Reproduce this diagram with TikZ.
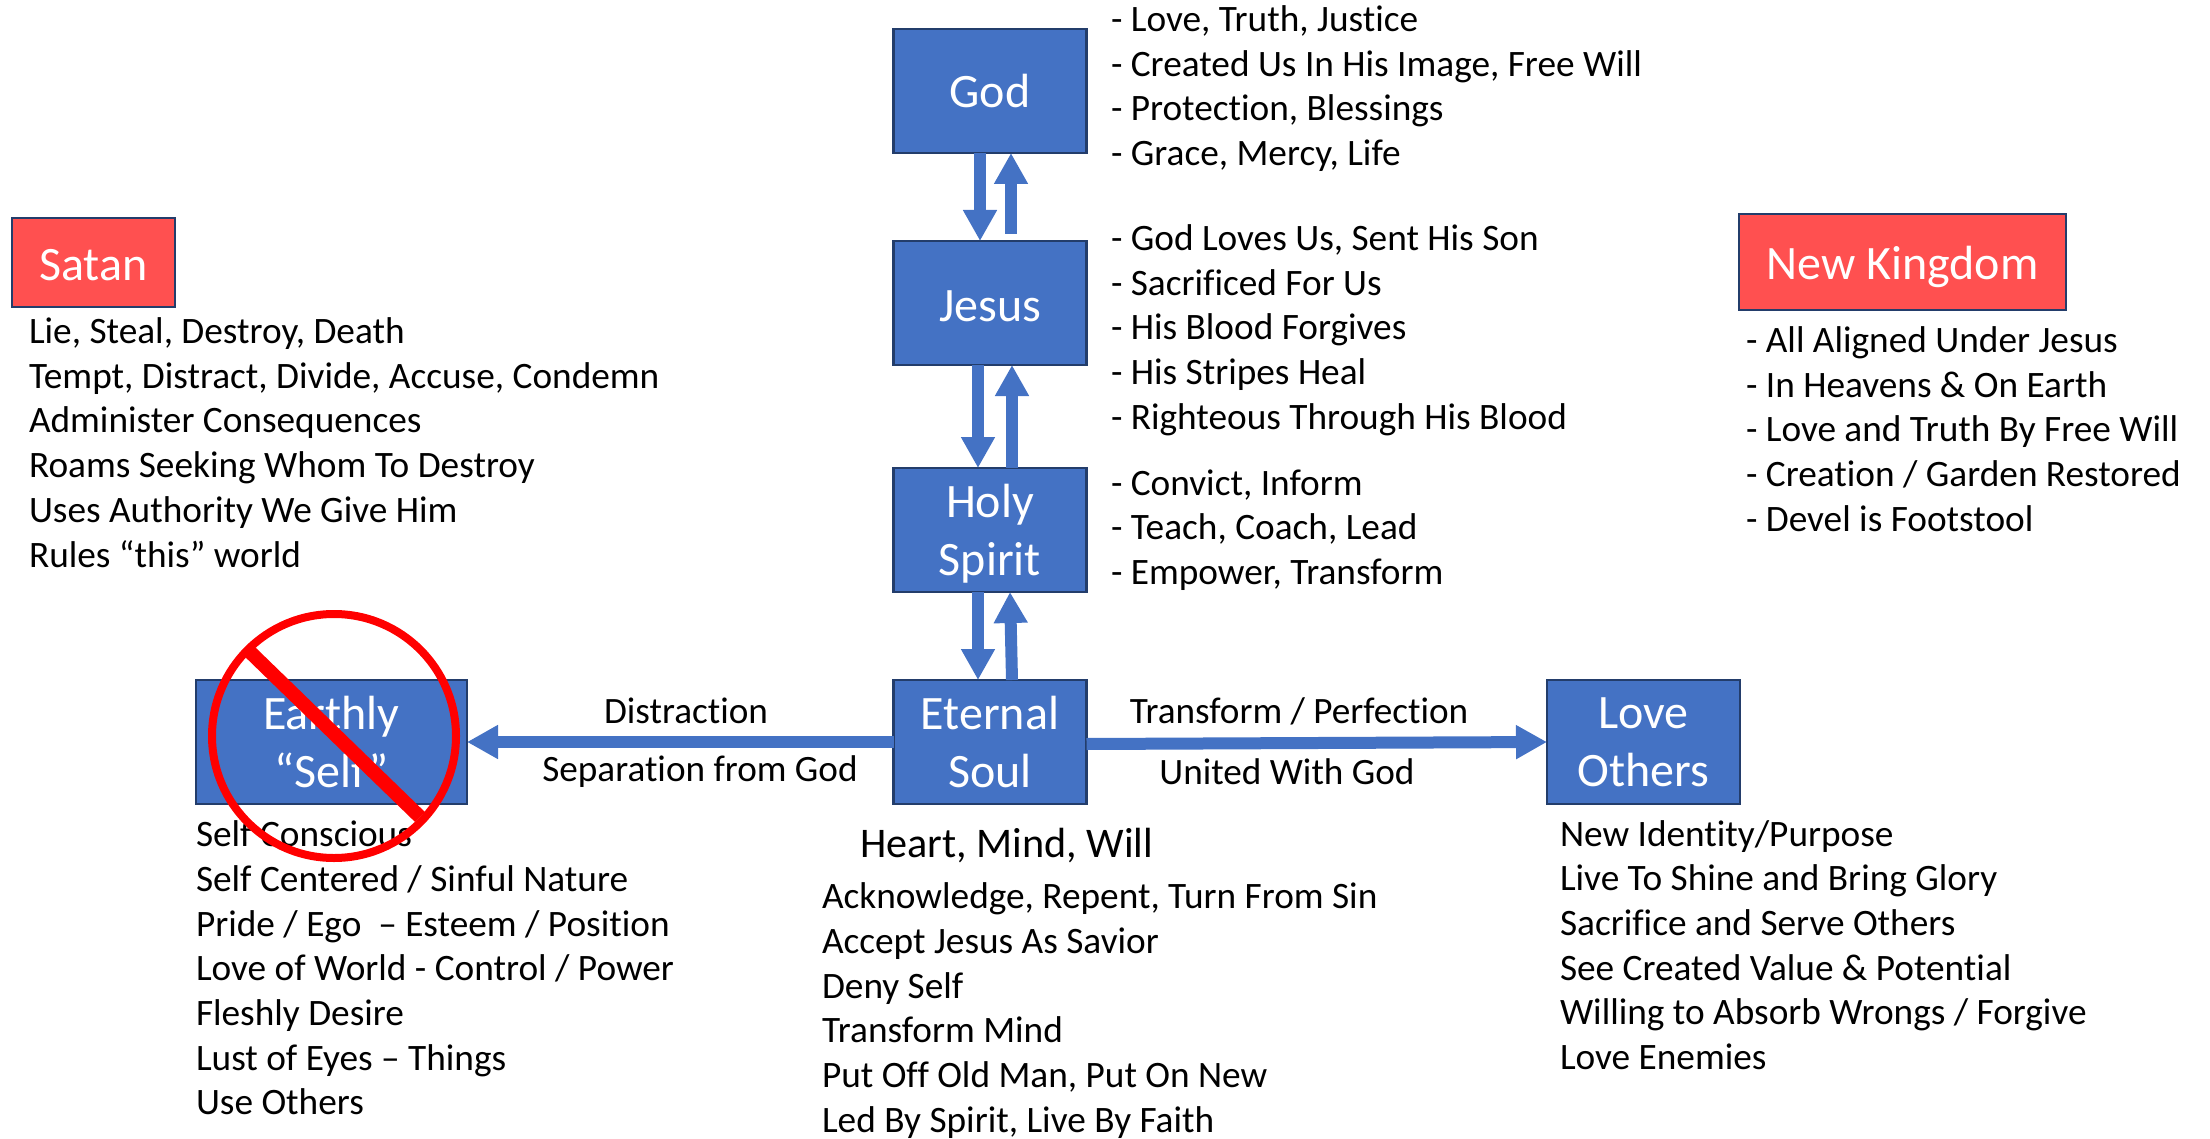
\documentclass[tikz,border=0pt]{standalone}
\usepackage{fontspec}
\setmainfont{Carlito}[Ligatures=NoCommon]
\usetikzlibrary{arrows.meta}
\definecolor{boxblue}{HTML}{4472C4}
\definecolor{boxedge}{HTML}{2F528F}
\definecolor{redbox}{HTML}{FF5050}
\definecolor{banred}{HTML}{FF0000}
\tikzset{
  box/.style={draw=boxedge!75!black,fill=boxblue,line width=1.2pt,text=white,align=center,inner sep=0pt,outer sep=0pt,font=\fontsize{24}{29}\selectfont},
  redb/.style={box,fill=redbox},
  note/.style={anchor=west,align=left,inner sep=0pt,outer sep=0pt,text=black,font=\fontsize{18.65}{22.35}\selectfont},
  lab/.style={anchor=center,align=center,inner sep=0pt,text=black,font=\fontsize{18.6}{22}\selectfont},
  flow/.style={draw=boxblue,line width=6pt,-{Triangle[length=15.5pt,width=16pt]}},
  banline/.style={draw=banred,line width=4pt},
}
\newcommand{\boxnode}[7]{\node[#1,minimum width=#4*0.5pt,minimum height=#5*0.5pt] (#2) at (#6,#7) {#3};}
\begin{document}
\begin{tikzpicture}[x=0.5pt,y=-0.5pt]
\useasboundingbox (0,0) rectangle (2210,1139);
\boxnode{box}{god}{God}{193}{124}{990}{91}
\boxnode{box}{jesus}{\rule{0pt}{19pt}Jesus}{193}{124}{990}{303}
\boxnode{box}{spirit}{\rule{0pt}{20.5pt}Holy\\Spirit}{193}{124}{990}{530}
\boxnode{box}{soul}{Eternal\\Soul}{193}{124}{990}{742}
\boxnode{box}{self}{Earthly\\“Self”}{271}{124}{331.5}{742}
\boxnode{box}{others}{Love\\Others}{193}{124}{1643.5}{742}
\boxnode{redb}{satan}{\rule{0pt}{18pt}Satan}{163}{89}{93.5}{262.5}
\boxnode{redb}{kingdom}{\rule{0pt}{22pt}New Kingdom}{327}{96}{1902.5}{262}
%
\coordinate (gd) at ([xshift=-5pt]god.south);
\coordinate (gu) at ([xshift=10.5pt]god.south);
\coordinate (ju) at ([xshift=10.5pt,yshift=3.5pt]jesus.north);
\draw[flow] (gd) -- ([xshift=-5pt]jesus.north);
\draw[flow] (ju) -- (gu);
\draw[flow] ([xshift=-6pt]jesus.south) -- ([xshift=-6pt]spirit.north);
\draw[flow] ([xshift=11pt]spirit.north) -- ([xshift=11pt]jesus.south);
\draw[flow] ([xshift=-6pt]spirit.south) -- ([xshift=-6pt]soul.north);
\draw[flow] ([xshift=11pt]soul.north) -- ([xshift=10pt]spirit.south);
\draw[flow] (soul.west) -- (self.east);
\draw[flow] ([yshift=-1pt]soul.east) -- (others.west);
%
\node[note] (n1) at (1111,88.5) {- Love, Truth, Justice\\- Created Us In His Image, Free Will\\- Protection, Blessings\\- Grace, Mercy, Life};
\node[note] (n2) at (1111,330) {- God Loves Us, Sent His Son\\- Sacrificed For Us\\- His Blood Forgives\\- His Stripes Heal\\- Righteous Through His Blood};
\node[note] (n3) at (1111,530) {- Convict, Inform\\- Teach, Coach, Lead\\- Empower, Transform};
\node[note] (n4) at (29,442.5) {Lie, Steal, Destroy, Death\\Tempt, Distract, Divide, Accuse, Condemn\\Administer Consequences\\Roams Seeking Whom To Destroy\\Uses Authority We Give Him\\Rules “this” world};
\node[note] (n5) at (1746,429) {- All Aligned Under Jesus\\- In Heavens \& On Earth\\- Love and Truth By Free Will\\- Creation / Garden Restored\\- Devel is Footstool};
\node[note] (n6) at (196,968) {Self Conscious\\Self Centered / Sinful Nature\\Pride / Ego \ – Esteem / Position\\Love of World - Control / Power\\Fleshly Desire\\Lust of Eyes – Things\\Use Others};
\node[note,font=\fontsize{21.1}{25}\selectfont] (n7) at (860,846) {Heart, Mind, Will};
\node[note] (n8) at (822,1010.5) {Acknowledge, Repent, Turn From Sin\\Accept Jesus As Savior\\Deny Self\\Transform Mind\\Put Off Old Man, Put On New\\Led By Spirit, Live By Faith};
\node[note] (n9) at (1560,945) {New Identity/Purpose\\Live To Shine and Bring Glory\\Sacrifice and Serve Others\\See Created Value \& Potential\\Willing to Absorb Wrongs / Forgive\\Love Enemies};
\node[lab] (l1) at (686,711) {Distraction};
\node[lab] (l2) at (700,772) {Separation from God};
\node[lab] (l3) at (1299,711) {Transform / Perfection};
\node[lab] (l4) at (1287,772) {United With God};
%
\draw[banline] (334,736) circle (122);
\draw[draw=banred,line width=7pt] (248,650) -- (420,817);
\end{tikzpicture}
\end{document}
